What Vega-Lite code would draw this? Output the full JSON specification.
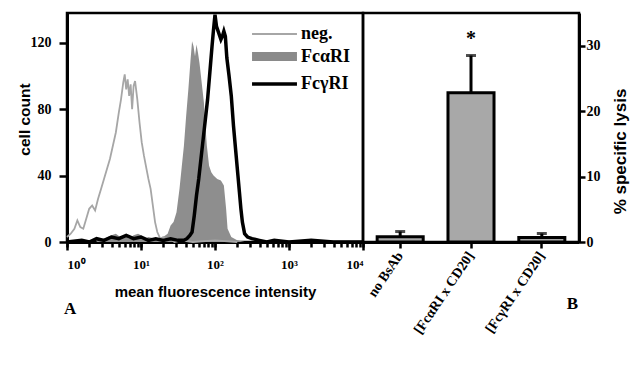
{
  "$schema": "https://vega.github.io/schema/vega-lite/v6.json",
  "background": "white",
  "padding": {"left": 15, "top": 6, "right": 0, "bottom": 0},
  "spacing": 0,
  "bounds": "flush",
  "resolve": {"legend": {"color": "independent", "strokeWidth": "independent"}},
  "config": {
    "font": "Liberation Serif",
    "view": {"stroke": "black", "strokeWidth": 2.5},
    "axis": {
      "grid": false,
      "domainColor": "black", "domainWidth": 3,
      "tickColor": "black", "tickWidth": 2.5,
      "labelFont": "Liberation Serif", "labelFontWeight": "bold", "labelColor": "black", "labelFontSize": 14,
      "titleFont": "Liberation Sans", "titleFontWeight": "bold", "titleColor": "black", "titleFontSize": 15
    }
  },
  "datasets": {
    "hist": [
      {"series": "neg.", "mfi": 1, "count": 3}, {"series": "neg.", "mfi": 1.122, "count": 5}, {"series": "neg.", "mfi": 1.259, "count": 8},
      {"series": "neg.", "mfi": 1.38, "count": 13}, {"series": "neg.", "mfi": 1.514, "count": 9}, {"series": "neg.", "mfi": 1.66, "count": 8},
      {"series": "neg.", "mfi": 1.82, "count": 14}, {"series": "neg.", "mfi": 1.995, "count": 20}, {"series": "neg.", "mfi": 2.188, "count": 22},
      {"series": "neg.", "mfi": 2.399, "count": 19}, {"series": "neg.", "mfi": 2.63, "count": 26}, {"series": "neg.", "mfi": 2.884, "count": 32},
      {"series": "neg.", "mfi": 3.162, "count": 38}, {"series": "neg.", "mfi": 3.467, "count": 44}, {"series": "neg.", "mfi": 3.802, "count": 50},
      {"series": "neg.", "mfi": 4.169, "count": 58}, {"series": "neg.", "mfi": 4.571, "count": 66}, {"series": "neg.", "mfi": 5.012, "count": 78},
      {"series": "neg.", "mfi": 5.37, "count": 86}, {"series": "neg.", "mfi": 5.754, "count": 96}, {"series": "neg.", "mfi": 6.026, "count": 101},
      {"series": "neg.", "mfi": 6.31, "count": 92}, {"series": "neg.", "mfi": 6.607, "count": 98}, {"series": "neg.", "mfi": 6.918, "count": 88},
      {"series": "neg.", "mfi": 7.244, "count": 95}, {"series": "neg.", "mfi": 7.586, "count": 80}, {"series": "neg.", "mfi": 7.943, "count": 94},
      {"series": "neg.", "mfi": 8.318, "count": 97}, {"series": "neg.", "mfi": 8.913, "count": 86}, {"series": "neg.", "mfi": 9.55, "count": 72},
      {"series": "neg.", "mfi": 10.23, "count": 60}, {"series": "neg.", "mfi": 10.96, "count": 52}, {"series": "neg.", "mfi": 11.75, "count": 45},
      {"series": "neg.", "mfi": 12.59, "count": 38}, {"series": "neg.", "mfi": 13.49, "count": 32}, {"series": "neg.", "mfi": 14.45, "count": 22},
      {"series": "neg.", "mfi": 15.49, "count": 12}, {"series": "neg.", "mfi": 16.6, "count": 6}, {"series": "neg.", "mfi": 18.2, "count": 2},
      {"series": "neg.", "mfi": 19.95, "count": 3}, {"series": "neg.", "mfi": 22.39, "count": 1}, {"series": "neg.", "mfi": 25.12, "count": 2},
      {"series": "neg.", "mfi": 28.18, "count": 0}, {"series": "neg.", "mfi": 35.48, "count": 1}, {"series": "neg.", "mfi": 50, "count": 0},
      {"series": "neg.", "mfi": 100, "count": 1}, {"series": "neg.", "mfi": 200, "count": 0},

      {"series": "FcαRI", "mfi": 2.512, "count": 1}, {"series": "FcαRI", "mfi": 3.162, "count": 2}, {"series": "FcαRI", "mfi": 3.981, "count": 4},
      {"series": "FcαRI", "mfi": 4.571, "count": 5}, {"series": "FcαRI", "mfi": 5.248, "count": 3}, {"series": "FcαRI", "mfi": 6.026, "count": 4},
      {"series": "FcαRI", "mfi": 6.918, "count": 2}, {"series": "FcαRI", "mfi": 7.943, "count": 4}, {"series": "FcαRI", "mfi": 9.12, "count": 5},
      {"series": "FcαRI", "mfi": 10, "count": 4}, {"series": "FcαRI", "mfi": 11.22, "count": 2}, {"series": "FcαRI", "mfi": 12.59, "count": 3},
      {"series": "FcαRI", "mfi": 15.85, "count": 2}, {"series": "FcαRI", "mfi": 19.95, "count": 3}, {"series": "FcαRI", "mfi": 22.91, "count": 5},
      {"series": "FcαRI", "mfi": 25.12, "count": 10}, {"series": "FcαRI", "mfi": 27.54, "count": 12}, {"series": "FcαRI", "mfi": 30.2, "count": 18},
      {"series": "FcαRI", "mfi": 33.11, "count": 32}, {"series": "FcαRI", "mfi": 35.48, "count": 45}, {"series": "FcαRI", "mfi": 38.02, "count": 58},
      {"series": "FcαRI", "mfi": 40.74, "count": 76}, {"series": "FcαRI", "mfi": 43.65, "count": 92}, {"series": "FcαRI", "mfi": 46.77, "count": 110},
      {"series": "FcαRI", "mfi": 48.98, "count": 121}, {"series": "FcαRI", "mfi": 51.29, "count": 118}, {"series": "FcαRI", "mfi": 53.7, "count": 112},
      {"series": "FcαRI", "mfi": 56.23, "count": 119}, {"series": "FcαRI", "mfi": 58.88, "count": 114}, {"series": "FcαRI", "mfi": 61.66, "count": 108},
      {"series": "FcαRI", "mfi": 64.57, "count": 100}, {"series": "FcαRI", "mfi": 67.61, "count": 92}, {"series": "FcαRI", "mfi": 70.79, "count": 84},
      {"series": "FcαRI", "mfi": 74.13, "count": 70}, {"series": "FcαRI", "mfi": 77.62, "count": 58}, {"series": "FcαRI", "mfi": 83.18, "count": 46},
      {"series": "FcαRI", "mfi": 89.13, "count": 42}, {"series": "FcαRI", "mfi": 95.5, "count": 40}, {"series": "FcαRI", "mfi": 107.2, "count": 38},
      {"series": "FcαRI", "mfi": 120.2, "count": 37}, {"series": "FcαRI", "mfi": 131.8, "count": 34}, {"series": "FcαRI", "mfi": 141.3, "count": 20},
      {"series": "FcαRI", "mfi": 147.9, "count": 8}, {"series": "FcαRI", "mfi": 166, "count": 3}, {"series": "FcαRI", "mfi": 199.5, "count": 1},
      {"series": "FcαRI", "mfi": 251.2, "count": 0},

      {"series": "FcγRI", "mfi": 1, "count": 0}, {"series": "FcγRI", "mfi": 1.585, "count": 1}, {"series": "FcγRI", "mfi": 1.995, "count": 0},
      {"series": "FcγRI", "mfi": 2.512, "count": 2}, {"series": "FcγRI", "mfi": 3.162, "count": 1}, {"series": "FcγRI", "mfi": 3.981, "count": 3},
      {"series": "FcγRI", "mfi": 5.012, "count": 2}, {"series": "FcγRI", "mfi": 6.31, "count": 4}, {"series": "FcγRI", "mfi": 7.943, "count": 2},
      {"series": "FcγRI", "mfi": 10, "count": 3}, {"series": "FcγRI", "mfi": 12.59, "count": 1}, {"series": "FcγRI", "mfi": 15.85, "count": 2},
      {"series": "FcγRI", "mfi": 19.95, "count": 1}, {"series": "FcγRI", "mfi": 25.12, "count": 2}, {"series": "FcγRI", "mfi": 31.62, "count": 1},
      {"series": "FcγRI", "mfi": 38.02, "count": 1}, {"series": "FcγRI", "mfi": 41.69, "count": 2}, {"series": "FcγRI", "mfi": 45.71, "count": 4},
      {"series": "FcγRI", "mfi": 48.98, "count": 6}, {"series": "FcγRI", "mfi": 52.48, "count": 16}, {"series": "FcγRI", "mfi": 56.23, "count": 28},
      {"series": "FcγRI", "mfi": 60.26, "count": 38}, {"series": "FcγRI", "mfi": 64.57, "count": 50}, {"series": "FcγRI", "mfi": 69.18, "count": 62},
      {"series": "FcγRI", "mfi": 74.13, "count": 74}, {"series": "FcγRI", "mfi": 79.43, "count": 86}, {"series": "FcγRI", "mfi": 85.11, "count": 102},
      {"series": "FcγRI", "mfi": 91.2, "count": 118}, {"series": "FcγRI", "mfi": 95.5, "count": 128}, {"series": "FcγRI", "mfi": 100, "count": 137},
      {"series": "FcγRI", "mfi": 104.7, "count": 130}, {"series": "FcγRI", "mfi": 112.2, "count": 126}, {"series": "FcγRI", "mfi": 120.2, "count": 122},
      {"series": "FcγRI", "mfi": 125.9, "count": 124}, {"series": "FcγRI", "mfi": 131.8, "count": 127}, {"series": "FcγRI", "mfi": 138, "count": 124},
      {"series": "FcγRI", "mfi": 144.5, "count": 111}, {"series": "FcγRI", "mfi": 154.9, "count": 100}, {"series": "FcγRI", "mfi": 166, "count": 88},
      {"series": "FcγRI", "mfi": 177.8, "count": 70}, {"series": "FcγRI", "mfi": 190.5, "count": 55}, {"series": "FcγRI", "mfi": 204.2, "count": 40},
      {"series": "FcγRI", "mfi": 213.8, "count": 30}, {"series": "FcγRI", "mfi": 223.9, "count": 20}, {"series": "FcγRI", "mfi": 234.4, "count": 12},
      {"series": "FcγRI", "mfi": 251.2, "count": 5}, {"series": "FcγRI", "mfi": 275.4, "count": 3}, {"series": "FcγRI", "mfi": 316.2, "count": 2},
      {"series": "FcγRI", "mfi": 398.1, "count": 1}, {"series": "FcγRI", "mfi": 501.2, "count": 0}, {"series": "FcγRI", "mfi": 631, "count": 1},
      {"series": "FcγRI", "mfi": 1000, "count": 0}, {"series": "FcγRI", "mfi": 1995, "count": 1}, {"series": "FcγRI", "mfi": 3981, "count": 0},
      {"series": "FcγRI", "mfi": 10000, "count": 0}
    ],
    "lysis": [
      {"bsab": "no BsAb", "lysis": 0.8, "upper": 1.6, "sig": ""},
      {"bsab": "[FcαRI x CD20]", "lysis": 22.8, "upper": 28.5, "sig": "*"},
      {"bsab": "[FcγRI x CD20]", "lysis": 0.7, "upper": 1.3, "sig": ""}
    ]
  },
  "hconcat": [
    {
      "width": 296,
      "height": 229,
      "title": {"text": "A", "orient": "bottom", "anchor": "start", "frame": "group", "fontSize": 17, "fontWeight": "bold", "color": "black", "font": "Liberation Serif", "offset": 2, "dx": -3},
      "data": {"name": "hist"},
      "resolve": {"axis": {"x": "independent"}},
      "layer": [
        {
          "transform": [{"filter": "datum.series === 'FcαRI'"}],
          "mark": {"type": "area", "color": "#8e8e8e", "interpolate": "linear"},
          "encoding": {
            "x": {"field": "mfi", "type": "quantitative",
                  "scale": {"type": "log", "domain": [1, 10000], "nice": false},
                  "axis": {"orient": "bottom", "values": [1, 10, 100, 1000, 10000], "tickSize": 8,
                           "labelExpr": "datum.value == 1 ? '10⁰' : datum.value == 10 ? '10¹' : datum.value == 100 ? '10²' : datum.value == 1000 ? '10³' : '10⁴'",
                           "labelPadding": 8, "labelFontSize": 13,
                           "title": "mean fluorescence intensity", "titlePadding": 13}},
            "y": {"field": "count", "type": "quantitative",
                  "scale": {"domain": [0, 138], "nice": false},
                  "axis": {"values": [0, 20, 40, 60, 80, 100, 120], "tickSize": 8, "labelPadding": 8,
                           "title": "cell count", "titleFontSize": 15.5, "titleX": -38, "titleY": 106, "titleBaseline": "alphabetic", "titleAngle": 270}}
          }
        },
        {
          "transform": [{"filter": "datum.series !== 'FcαRI'"}],
          "mark": {"type": "line", "interpolate": "linear"},
          "encoding": {
            "x": {"field": "mfi", "type": "quantitative",
                  "scale": {"type": "log", "domain": [1, 10000], "nice": false},
                  "axis": {"orient": "bottom", "values": [1,2,3,4,5,6,7,8,9,10,20,30,40,50,60,70,80,90,100,200,300,400,500,600,700,800,900,1000,2000,3000,4000,5000,6000,7000,8000,9000,10000],
                           "tickSize": 5, "labels": false, "title": null}},
            "y": {"field": "count", "type": "quantitative"},
            "color": {"field": "series", "type": "nominal",
                      "scale": {"domain": ["neg.", "FcαRI", "FcγRI"], "range": ["#a6a6a6", "#8a8a8a", "black"]},
                      "legend": {"title": null, "orient": "top-right", "offset": 12, "padding": 0, "symbolType": "M-3.33,0H3.33", "symbolSize": 182,
                                 "labelFont": "Liberation Serif", "labelFontWeight": "bold", "labelFontSize": 18, "labelColor": "black",
                                 "labelOffset": 15, "rowPadding": -5}},
            "strokeWidth": {"field": "series", "type": "nominal",
                      "scale": {"type": "ordinal", "domain": ["neg.", "FcαRI", "FcγRI"], "range": [1.8, 9, 3.5]},
                      "legend": {"title": null, "orient": "top-right", "offset": 12, "padding": 0, "symbolType": "M-3.33,0H3.33", "symbolSize": 182,
                                 "labelFont": "Liberation Serif", "labelFontWeight": "bold", "labelFontSize": 18, "labelColor": "black",
                                 "labelOffset": 15, "rowPadding": -5}}
          }
        }
      ]
    },
    {
      "width": 216,
      "height": 229,
      "data": {"name": "lysis"},
      "encoding": {
        "x": {"field": "bsab", "type": "nominal", "sort": null,
              "scale": {"paddingInner": 0.35, "paddingOuter": 0.2},
              "axis": {"labelAngle": -56, "tickSize": 6, "labelPadding": 5, "labelFontSize": 14,
                       "title": "B", "titleFont": "Liberation Serif", "titleFontSize": 17, "titleX": 209, "titleY": 53, "titleBaseline": "top", "titleAlign": "center"}},
        "y": {"field": "lysis", "type": "quantitative",
              "scale": {"domain": [0, 35], "nice": false},
              "axis": {"orient": "right", "values": [0, 10, 20, 30], "tickSize": 6, "labelPadding": 1,
                       "title": "% specific lysis", "titleFontSize": 17, "titleAngle": 270, "titleX": 46, "titleY": 138, "titleBaseline": "alphabetic"}}
      },
      "layer": [
        {"mark": {"type": "rule", "color": "black", "strokeWidth": 3},
         "encoding": {"y2": {"field": "upper"}}},
        {"mark": {"type": "bar", "fill": "#a8a8a8", "stroke": "black", "strokeWidth": 3}},
        {"mark": {"type": "tick", "color": "black", "thickness": 3, "size": 10},
         "encoding": {"y": {"field": "upper", "type": "quantitative"}}},
        {"mark": {"type": "text", "font": "Liberation Serif", "fontWeight": "bold", "fontSize": 20, "baseline": "bottom", "dy": -7},
         "encoding": {"y": {"field": "upper", "type": "quantitative"}, "text": {"field": "sig"}}}
      ]
    }
  ]
}
